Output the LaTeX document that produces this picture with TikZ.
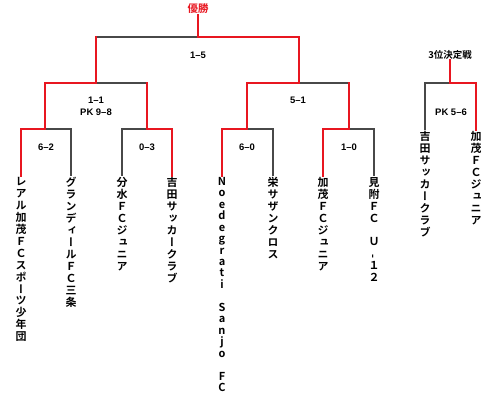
\documentclass[tikz,border=0pt]{standalone}
\usepackage{fontspec}
\usepackage{graphicx}
\setmainfont{Noto Sans CJK JP}[BoldFont={Noto Sans CJK JP Bold}]
\newfontfamily\jpvert{Noto Sans CJK JP Bold}[RawFeature=+vert]
\newfontfamily\scorefont{Liberation Sans Bold}
\usetikzlibrary{positioning}
\definecolor{wincolor}{RGB}{232,22,32}
\definecolor{losecolor}{RGB}{72,72,72}

\begin{document}
\begin{tikzpicture}[
  x=1bp, y=-1bp,
  win/.style={draw=wincolor, line width=2.8bp, line cap=rect},
  lose/.style={draw=losecolor, line width=1.3bp},
  team/.style={anchor=north, inner sep=1bp, align=center, font=\jpvert\fontsize{11}{12}\selectfont},
  score/.style={inner sep=0pt, align=center, font=\scorefont\fontsize{9.5}{12}\selectfont},
  title/.style={inner sep=1bp, font=\bfseries\fontsize{9.5}{11}\selectfont},
]
\useasboundingbox (0,0) rectangle (495,411);

% ===== titles and scores =====
\node[title, text=wincolor, font=\bfseries\fontsize{10.5}{12}\selectfont] (champ) at (198,9) {優勝};
\node[title] (bronze) at (450,55) {3位決定戦};

\node[score] (sFin) at (198,55) {1–5};
\node[score] (sA) at (96,106) {1–1\\PK 9–8};
\node[score] (sB) at (298,100) {5–1};
\node[score] (sA1) at (46,147) {6–2};
\node[score] (sA2) at (147,147) {0–3};
\node[score] (sB1) at (247,147) {6–0};
\node[score] (sB2) at (349,147) {1–0};
\node[score] (sE) at (451,112) {PK 5–6};

% ===== junctions =====
\coordinate (fin) at (198,37);
\coordinate (semiA) at (96,83);
\coordinate (semiB) at (299,83);
\coordinate (rA) at (45,129);
\coordinate (rB) at (147,129);
\coordinate (rC) at (247,129);
\coordinate (rD) at (349,129);
\coordinate (third) at (450,83);

% ===== teams =====
\node[team] (tA1) at (21,176) {レ\\ア\\ル\\加\\茂\\Ｆ\\Ｃ\\ス\\ポ\\ー\\ツ\\少\\年\\団};
\node[team] (tA2) at (71,176) {グ\\ラ\\ン\\デ\\ィ\\ー\\ル\\Ｆ\\Ｃ\\三\\条};
\node[team] (tB1) at (122,176) {分\\水\\Ｆ\\Ｃ\\ジ\\ュ\\ニ\\ア};
\node[team] (tB2) at (172,176) {吉\\田\\サ\\ッ\\カ\\ー\\ク\\ラ\\ブ};
\node[team, font=\jpvert\fontsize{11}{11.5}\selectfont] (tC1) at (222,176) {N\\o\\e\\d\\e\\g\\r\\a\\t\\i\\~\\S\\a\\n\\j\\o\\~\\F\\C};
\node[team] (tC2) at (273,176) {栄\\サ\\ザ\\ン\\ク\\ロ\\ス};
\node[team] (tD1) at (323,176) {加\\茂\\Ｆ\\Ｃ\\ジ\\ュ\\ニ\\ア};
\node[team] (tD2) at (374,176) {見\\附\\Ｆ\\Ｃ\\~\\Ｕ\\\rotatebox[origin=c]{90}{-}\\１\\２};
\node[team] (tE1) at (425,130) {吉\\田\\サ\\ッ\\カ\\ー\\ク\\ラ\\ブ};
\node[team] (tE2) at (476,130) {加\\茂\\Ｆ\\Ｃ\\ジ\\ュ\\ニ\\ア};

% ===== losing paths =====
\draw[lose] (fin) -- (fin -| semiA);
\draw[lose] (semiA) -- (semiA -| rB);
\draw[lose] (semiB) -- (semiB -| rD);
\draw[lose] (rA) -| (tA2.north);
\draw[lose] (rB) -| (tB1.north);
\draw[lose] (rC) -| (tC2.north);
\draw[lose] (rD) -| (tD2.north);
\draw[lose] (third) -| (tE1.north);

% ===== winning paths =====
\draw[win] (champ.south) -- (fin) -| (semiB) -| (rC) -| (tC1.north);
\draw[win] (fin -| semiA) -- (semiA) -| (rA) -| (tA1.north);
\draw[win] (semiA -| rB) -- (rB) -| (tB2.north);
\draw[win] (semiB -| rD) -- (rD) -| (tD1.north);
\draw[win] (bronze.south) -- (third) -| (tE2.north);

\end{tikzpicture}
\end{document}
